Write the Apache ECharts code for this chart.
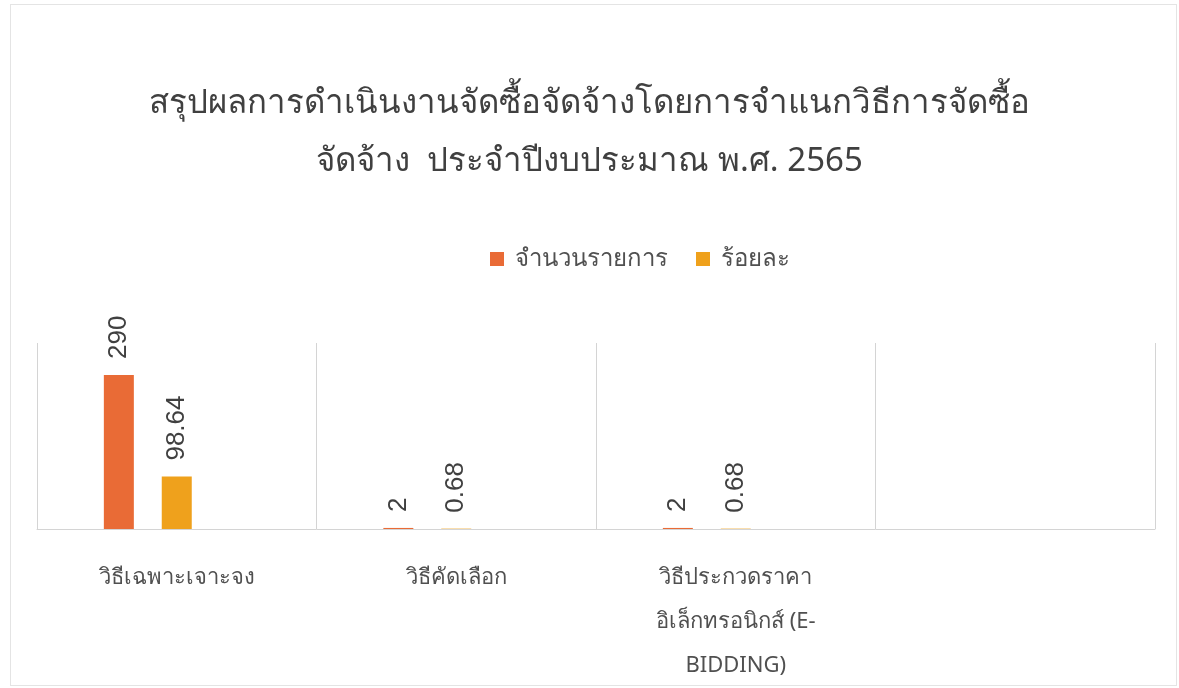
<!DOCTYPE html>
<html><head><meta charset="utf-8">
<script src="https://cdn.jsdelivr.net/npm/echarts@6/dist/echarts.min.js"></script>
<style>
html,body{margin:0;padding:0;background:#fff;}
#wrap{position:absolute;left:10px;top:4px;width:1167px;height:682px;border:1px solid #e4e4e4;box-sizing:border-box;}
#c{position:absolute;left:0;top:0;width:1179px;height:688px;}
</style></head>
<body><div id="wrap"></div><div id="c"></div>
<script>
const titleText = 'สรุปผลการดำเนินงานจัดซื้อจัดจ้างโดยการจำแนกวิธีการจัดซื้อ\nจัดจ้าง  ประจำปีงบประมาณ พ.ศ. 2565';
const categories = ['วิธีเฉพาะเจาะจง', 'วิธีคัดเลือก', 'วิธีประกวดราคาอิเล็กทรอนิกส์ (E-BIDDING)', ''];
const seriesNames = ['จำนวนรายการ', 'ร้อยละ'];
const countValues = [290, 2, 2, null];
const percentValues = [98.64, 0.68, 0.68, null];
const emptyValues = [null, null, null, null];
const yMax = 350;

const chart = echarts.init(document.getElementById('c'), null, {renderer:'canvas'});
const font = "'Noto Sans', 'DejaVu Sans', sans-serif";
const labelCfg = {
  show: true, position: 'top', rotate: 90, align: 'left', verticalAlign: 'middle',
  distance: 16, fontSize: 26, color: '#404040', fontFamily: "'Liberation Sans', Arial, sans-serif",
  formatter: p => (p.value == null ? '' : String(p.value))
};
chart.setOption({
  backgroundColor: 'transparent',
  animation: false,
  title: {
    text: titleText, left: 'center', top: 70,
    textStyle: {fontSize: 33, fontWeight: 'normal', color: '#404040', fontFamily: font, lineHeight: 58}
  },
  legend: {
    data: seriesNames, top: 242, left: 485, itemWidth: 14, itemHeight: 14, itemGap: 28,
    icon: 'rect',
    textStyle: {fontSize: 24, color: '#505050', fontFamily: font, padding: [0, 0, 0, 6]}
  },
  grid: {left: 37, right: 24, top: 343, bottom: 159, containLabel: false},
  xAxis: {
    type: 'category', data: categories, boundaryGap: true,
    axisLine: {show: true, lineStyle: {color: '#d4d4d4', width: 1}},
    axisTick: {show: false},
    splitLine: {show: true, lineStyle: {color: '#d4d4d4', width: 1}},
    axisLabel: {
      interval: 0, margin: 27, fontSize: 22, color: '#505050', fontFamily: font, lineHeight: 44,
      formatter: v => v.replace('ราคา', 'ราคา\n').replace('(E-', '(E-\n')
    }
  },
  yAxis: {
    type: 'value', min: 0, max: yMax, show: false,
    splitLine: {show: false}
  },
  series: [
    {name: seriesNames[0], type: 'bar', data: countValues, barWidth: 30, barGap: '93%',
     itemStyle: {color: '#E96B36'}, label: labelCfg},
    {name: seriesNames[1], type: 'bar', data: percentValues, barWidth: 30, barGap: '93%',
     itemStyle: {color: '#EFA11C'}, label: labelCfg},
    {name: 'hidden', type: 'bar', data: emptyValues, barWidth: 30, barGap: '93%',
     itemStyle: {color: '#999'}}
  ]
});
</script></body></html>
